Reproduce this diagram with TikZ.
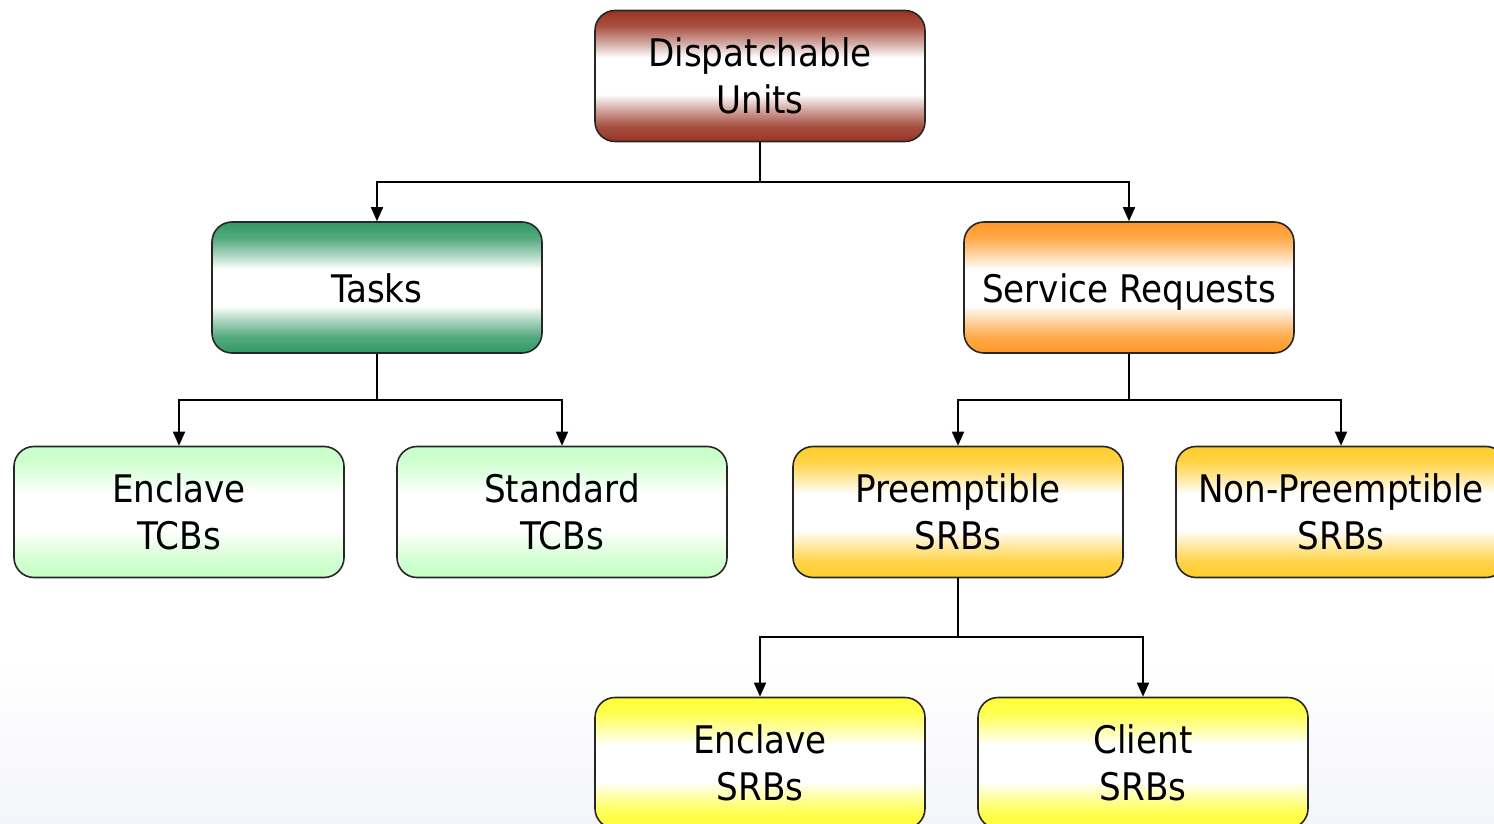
\documentclass[tikz,border=0pt]{standalone}
\usepackage{fontspec}
\setmainfont{DejaVu Sans Condensed}
\usetikzlibrary{arrows.meta}
\definecolor{cRed}{RGB}{153,51,34}
\definecolor{cGreen}{RGB}{51,153,102}
\definecolor{cOrange}{RGB}{255,153,40}
\definecolor{cLight}{RGB}{200,255,200}
\definecolor{cGold}{RGB}{255,204,40}
\definecolor{cYellow}{RGB}{255,255,51}
\definecolor{bgBot}{RGB}{244,245,250}
\newcommand\mkplateau[2]{\pgfdeclareverticalshading{#1}{100bp}{color(0bp)=(#2); color(25bp)=(#2); color(31bp)=(#2!85!white); color(37bp)=(#2!45!white); color(43bp)=(white); color(57bp)=(white); color(63bp)=(#2!45!white); color(69bp)=(#2!85!white); color(75bp)=(#2); color(100bp)=(#2)}}
\mkplateau{shRed}{cRed}
\mkplateau{shGreen}{cGreen}
\mkplateau{shOrange}{cOrange}
\mkplateau{shLight}{cLight}
\mkplateau{shGold}{cGold}
\mkplateau{shYellow}{cYellow}
\begin{document}
\begin{tikzpicture}[x=1pt,y=-1pt,
  box/.style={draw=black!85, line width=1.6pt, rounded corners=20pt,
    minimum width=330pt, minimum height=131pt, inner sep=0pt,
    align=center, font=\fontsize{38}{47}\selectfont},
  oneline/.style={text height=30pt, text depth=0pt},
  conn/.style={line width=1.6pt, draw=black},
  arr/.style={conn, -{Triangle[length=14pt,width=12pt]}}]
\useasboundingbox (0,0) rectangle (1494,824);
\fill[white] (0,0) rectangle (1494,824);
\shade[top color=white, bottom color=bgBot] (0,660) rectangle (1494,824);

\node[box, shading=shRed]    (du)  at (760,76)    {Dispatchable\\Units};
\node[box, oneline, shading=shGreen]  (ta)  at (377,287.5) {Tasks};
\node[box, oneline, shading=shOrange] (sr)  at (1129,287.5){Service Requests};
\node[box, shading=shLight]  (et)  at (179,512)   {Enclave\\TCBs};
\node[box, shading=shLight]  (st)  at (562,512)   {Standard\\TCBs};
\node[box, shading=shGold]   (ps)  at (958,512)   {Preemptible\\SRBs};
\node[box, shading=shGold]   (np)  at (1341,512)  {Non-Preemptible\\SRBs};
\node[box, shading=shYellow] (es)  at (760,763)   {Enclave\\SRBs};
\node[box, shading=shYellow] (cs)  at (1143,763)  {Client\\SRBs};

\coordinate (j1) at (760,182);
\coordinate (j2) at (377,400);
\coordinate (j3) at (1129,400);
\coordinate (j4) at (958,637);

\draw[conn] (du.south) -- (j1);
\draw[arr] (j1) -| (ta.north);
\draw[arr] (j1) -| (sr.north);
\draw[conn] (ta.south) -- (j2);
\draw[arr] (j2) -| (et.north);
\draw[arr] (j2) -| (st.north);
\draw[conn] (sr.south) -- (j3);
\draw[arr] (j3) -| (ps.north);
\draw[arr] (j3) -| (np.north);
\draw[conn] (ps.south) -- (j4);
\draw[arr] (j4) -| (es.north);
\draw[arr] (j4) -| (cs.north);
\end{tikzpicture}
\end{document}
